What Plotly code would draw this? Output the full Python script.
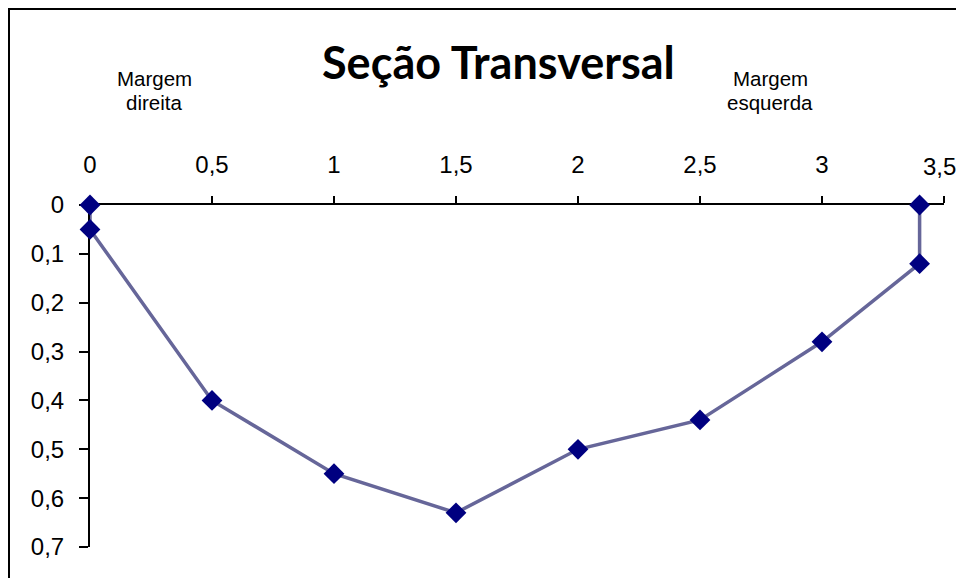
import plotly.graph_objects as go

distancia = [0, 0, 0.5, 1, 1.5, 2, 2.5, 3, 3.4, 3.4]
profundidade = [0, 0.05, 0.40, 0.55, 0.63, 0.50, 0.44, 0.28, 0.12, 0]
x_ticks = [0, 0.5, 1, 1.5, 2, 2.5, 3, 3.5]
x_labels = ["0", "0,5", "1", "1,5", "2", "2,5", "3", "3,5"]
y_ticks = [0, 0.1, 0.2, 0.3, 0.4, 0.5, 0.6, 0.7]
y_labels = ["0", "0,1", "0,2", "0,3", "0,4", "0,5", "0,6", "0,7"]
title = "Seção Transversal"

OFF = 8  # default body margin of the page
W, H = 964 - 2 * OFF, 586 - 2 * OFF
L, T = 90 - OFF, 205 - OFF
R = W - (944 - OFF)
B = H - (547 - OFF)
pw, ph = W - L - R, H - T - B

fig = go.Figure()
fig.add_trace(go.Scatter(
    x=distancia, y=profundidade, mode="lines+markers",
    line=dict(color="#666699", width=3.5),
    marker=dict(symbol="diamond", size=16, color="#000080"),
    cliponaxis=False, showlegend=False,
))

font = "Liberation Sans, Arial, sans-serif"
# last x label is drawn as an annotation nudged inward so it is not cut at the page edge
shown_x_labels = x_labels[:-1] + [""]
fig.update_layout(
    width=W, height=H, autosize=False,
    margin=dict(l=L, r=R, t=T, b=B, pad=0),
    paper_bgcolor="white", plot_bgcolor="white",
    separators=", ",
    xaxis=dict(side="top", range=[0, 3.5], tickvals=x_ticks, ticktext=shown_x_labels,
               showgrid=False, zeroline=False, showline=True, linecolor="black",
               linewidth=2, ticks="outside", ticklen=7, tickwidth=2, tickcolor="black",
               tickfont=dict(family=font, size=24, color="black"),
               ticklabelstandoff=13, layer="below traces",
               ticklabeloverflow="allow", automargin=False),
    yaxis=dict(range=[0.7, 0], tickvals=y_ticks, ticktext=y_labels,
               showgrid=False, zeroline=False, showline=True, linecolor="black",
               linewidth=2, ticks="outside", ticklen=9, tickwidth=2, tickcolor="black",
               tickfont=dict(family=font, size=24, color="black"),
               ticklabelstandoff=10, layer="below traces",
               ticklabeloverflow="allow", automargin=False),
)


def px(xs):
    return (xs - OFF - L) / pw


def py(ys):
    return (H - B - (ys - OFF)) / ph


fig.add_shape(type="rect", xref="paper", yref="paper",
              x0=px(9), x1=px(1000), y0=py(640), y1=py(9),
              line=dict(color="black", width=2), fillcolor="rgba(0,0,0,0)")

fig.add_annotation(text=x_labels[-1], xref="x", yref="paper",
                   x=x_ticks[-1], y=py(166), xanchor="center", yanchor="middle",
                   xshift=-5, showarrow=False,
                   font=dict(family=font, size=24, color="black"))

fig.add_annotation(text="<b>" + title + "</b>", xref="paper", yref="paper",
                   x=px(498.5), y=py(62.5), xanchor="center", yanchor="middle",
                   showarrow=False,
                   font=dict(family="Lato, Open Sans, sans-serif", size=45, color="black"))

labels = [("Margem", 154, 79), ("direita", 154, 102),
          ("Margem", 770, 79), ("esquerda", 770, 102)]
for txt, xs, ys in labels:
    fig.add_annotation(text=txt, xref="paper", yref="paper",
                       x=px(xs), y=py(ys), xanchor="center", yanchor="middle",
                       showarrow=False,
                       font=dict(family=font, size=20.5, color="black"))

fig.write_html("out.html")
